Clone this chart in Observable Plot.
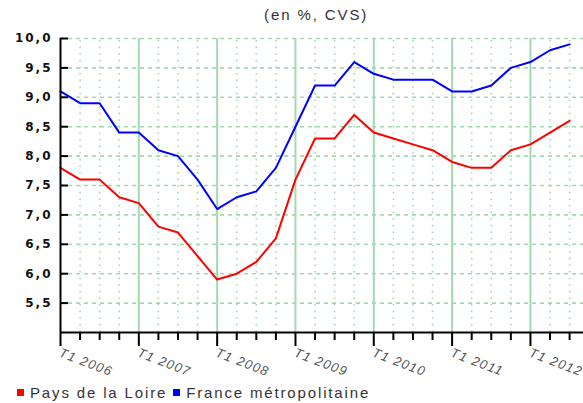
<!DOCTYPE html>
<html>
<head>
<meta charset="utf-8">
<script src="https://cdn.jsdelivr.net/npm/d3@7"></script>
<script src="https://cdn.jsdelivr.net/npm/@observablehq/plot@0.6"></script>
<style>
  html, body { margin: 0; padding: 0; background: #fff; }
  #wrap { position: relative; width: 583px; height: 403px; overflow: hidden; font-family: "Liberation Sans", Arial, sans-serif; }
  #title { position: absolute; top: 6px; left: 264px; font-size: 15px; letter-spacing: 1.9px; color: #333; white-space: nowrap; }
  #legend { position: absolute; top: 384px; left: 17px; font-size: 15px; letter-spacing: 1.85px; color: #333; white-space: nowrap; display: flex; align-items: center; }
  #legend .sw { display: inline-block; width: 7px; height: 7px; margin-right: 6px; }
  #legend .item { display: flex; align-items: center; margin-right: 6px; }
  #chart { position: absolute; top: 0; left: 0; }
</style>
</head>
<body>
<div id="wrap">
  <div id="chart"></div>
  <div id="title">(en %, CVS)</div>
  <div id="legend"></div>
</div>
<script>
// Quarterly periods T1 2006 ... T3 2012
const periods = ["T1 2006","T2 2006","T3 2006","T4 2006","T1 2007","T2 2007","T3 2007","T4 2007",
  "T1 2008","T2 2008","T3 2008","T4 2008","T1 2009","T2 2009","T3 2009","T4 2009",
  "T1 2010","T2 2010","T3 2010","T4 2010","T1 2011","T2 2011","T3 2011","T4 2011",
  "T1 2012","T2 2012","T3 2012"];
const paysDeLaLoire = [7.8,7.6,7.6,7.3,7.2,6.8,6.7,6.3,5.9,6.0,6.2,6.6,7.6,8.3,8.3,8.7,8.4,8.3,8.2,8.1,7.9,7.8,7.8,8.1,8.2,8.4,8.6];
const franceMetro   = [9.1,8.9,8.9,8.4,8.4,8.1,8.0,7.6,7.1,7.3,7.4,7.8,8.5,9.2,9.2,9.6,9.4,9.3,9.3,9.3,9.1,9.1,9.2,9.5,9.6,9.8,9.9];
const seriesNames = ["Pays de la Loire", "France métropolitaine"];
const seriesColors = ["#ff0000", "#0000ff"];
const yTicks = [5.5,6.0,6.5,7.0,7.5,8.0,8.5,9.0,9.5,10.0];
const yearLabels = ["T1 2006","T1 2007","T1 2008","T1 2009","T1 2010","T1 2011","T1 2012"];

const yDomain = [5, 10];
const xDomain = [0, 26.71];
const green = "#a3d9b1";

const data = [];
periods.forEach((p, i) => {
  data.push({i, period: p, serie: seriesNames[0], value: paysDeLaLoire[i]});
  data.push({i, period: p, serie: seriesNames[1], value: franceMetro[i]});
});
const quarterIdx = d3.range(0, Math.floor(xDomain[1]) + 1);
const yearIdx = quarterIdx.filter(i => i % 4 === 0);
const minorIdx = quarterIdx.filter(i => i % 4 !== 0);
const yearTickData = yearLabels.map(l => ({i: periods.indexOf(l), label: l}));
const fmt = v => v.toFixed(1).replace(".", ",");

const chart = Plot.plot({
  width: 583,
  height: 403,
  marginLeft: 60,
  marginRight: 0,
  marginTop: 38,
  marginBottom: 71,
  x: {type: "linear", domain: xDomain, axis: null},
  y: {type: "linear", domain: yDomain, axis: null},
  color: {domain: seriesNames, range: seriesColors},
  style: {background: "transparent", overflow: "visible"},
  marks: [
    Plot.ruleY(yTicks, {y: d => d, stroke: green, strokeWidth: 1.6, strokeDasharray: "4,4"}),
    Plot.ruleX(minorIdx, {x: d => d, y1: yDomain[0], y2: yDomain[1], stroke: green, strokeWidth: 1.6, strokeDasharray: "1.6,5"}),
    Plot.ruleX(yearIdx.filter(i => i > 0), {x: d => d, y1: yDomain[0], y2: yDomain[1], stroke: green, strokeWidth: 2}),
    Plot.line(data, {x: "i", y: "value", z: "serie", stroke: "serie", strokeWidth: 2, curve: "linear"}),
    Plot.ruleX([xDomain[0]], {x: d => d, y1: yDomain[0], y2: yDomain[1], stroke: "#000", strokeWidth: 2}),
    Plot.ruleY(yTicks, {y: d => d, x1: () => xDomain[0], x2: () => xDomain[0], insetRight: -8, stroke: "#000", strokeWidth: 2}),
    Plot.ruleY([yDomain[0]], {y: d => d, stroke: "#000", strokeWidth: 2}),
    Plot.ruleX(minorIdx, {x: d => d, y1: () => yDomain[0], y2: () => yDomain[0], insetBottom: -8, stroke: "#000", strokeWidth: 2}),
    Plot.ruleX(yearIdx, {x: d => d, y1: () => yDomain[0], y2: () => yDomain[0], insetBottom: -14, stroke: "#000", strokeWidth: 2}),
    Plot.text(yTicks, {y: d => d, frameAnchor: "left", text: fmt, textAnchor: "end", dx: -8, fontSize: 12, fontWeight: "bold", fontFamily: "DejaVu Sans", fill: "#111", className: "ylab"}),
    Plot.text(yearTickData, {x: "i", frameAnchor: "bottom", text: "label", textAnchor: "start", lineAnchor: "top", rotate: 21, dx: 1, dy: 15, fontSize: 13, fontStyle: "italic", fontFamily: "Liberation Sans", fill: "#555", className: "xlab"})
  ]
});
chart.querySelectorAll(".ylab text").forEach(t => t.style.letterSpacing = "2px");
chart.querySelectorAll(".xlab text").forEach(t => t.style.letterSpacing = "1.2px");
document.getElementById("chart").appendChild(chart);

const legend = document.getElementById("legend");
seriesNames.forEach((n, k) => {
  const item = document.createElement("span");
  item.className = "item";
  const sw = document.createElement("span");
  sw.className = "sw";
  sw.style.background = seriesColors[k];
  item.appendChild(sw);
  item.appendChild(document.createTextNode(n));
  legend.appendChild(item);
});
</script>
</body>
</html>
